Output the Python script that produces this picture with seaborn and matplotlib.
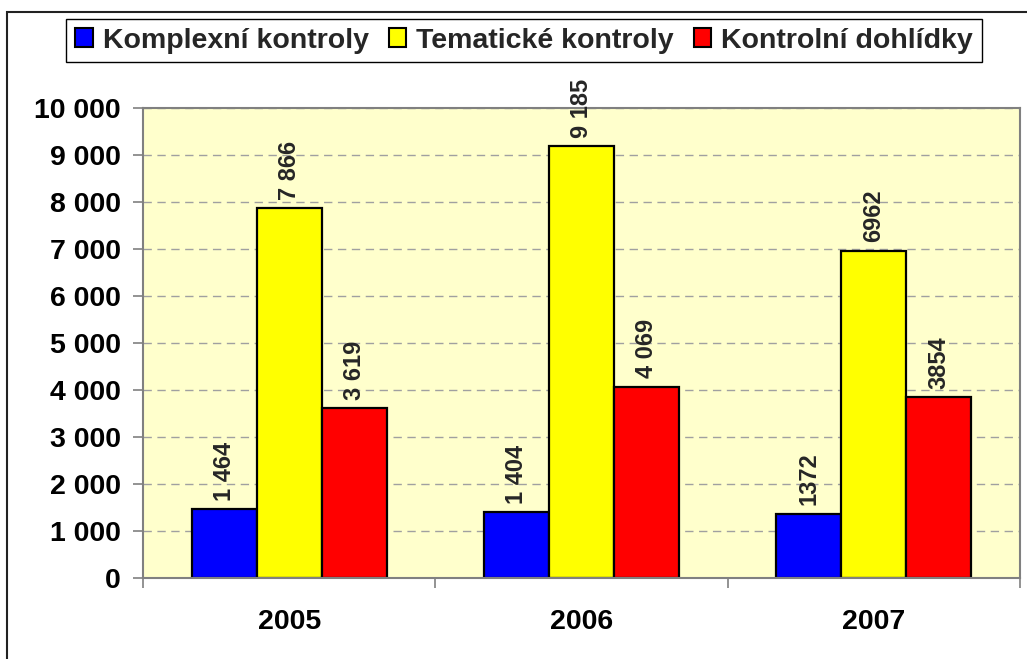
import matplotlib
matplotlib.use("Agg")
import matplotlib.pyplot as plt
import seaborn as sns
import pandas as pd
from matplotlib.patches import Rectangle
from matplotlib.ticker import FuncFormatter, FixedLocator

years = ["2005", "2006", "2007"]
series = ["Komplexní kontroly", "Tematické kontroly", "Kontrolní dohlídky"]
komplexni = [1464, 1404, 1372]
tematicke = [7866, 9185, 6962]
dohlidky = [3619, 4069, 3854]
value_labels = [["1 464", "1 404", "1372"],
                 ["7 866", "9 185", "6962"],
                 ["3 619", "4 069", "3854"]]
colors = ["#0000FF", "#FFFF00", "#FF0000"]

rows = []
for s, vals in zip(series, [komplexni, tematicke, dohlidky]):
    for y, v in zip(years, vals):
        rows.append({"Rok": y, "Typ": s, "Počet": v})
df = pd.DataFrame(rows)

sns.set_theme(style="white")
plt.rcParams["font.family"] = ["Liberation Sans", "DejaVu Sans"]
plt.rcParams["font.weight"] = "bold"

fig = plt.figure(figsize=(10.27, 6.59), dpi=100)
ax = fig.add_axes([143/1027, 1-578/659, (1020-143)/1027, (578-108)/659])
ax.set_facecolor("#FFFFCC")

sns.barplot(data=df, x="Rok", y="Počet", hue="Typ", order=years, hue_order=series,
            palette=colors, width=0.667, edgecolor="black", linewidth=1.6,
            saturation=1, ax=ax, legend=True, gap=0)

ax.set_ylim(0, 10000)
ax.set_xlim(-0.5, 2.5)
ax.set_yticks(range(0, 10001, 1000))
ax.yaxis.set_major_formatter(FuncFormatter(lambda v, p: f"{int(v):,}".replace(",", " ")))
ax.set_xlabel("")
ax.set_ylabel("")

ax.grid(axis="y", color="#A0A0A0", linestyle=(0, (6, 4)), linewidth=1.0)
ax.set_axisbelow(True)
for sp in ax.spines.values():
    sp.set_visible(True)
    sp.set_color("#808080")
    sp.set_linewidth(1.5)

ax.tick_params(axis="y", which="major", length=7, width=1.2, color="#808080",
               direction="out", pad=9, labelsize=20.5, left=True)
ax.tick_params(axis="x", which="major", length=0, pad=22, labelsize=20.5)
ax.xaxis.set_minor_locator(FixedLocator([-0.5, 0.5, 1.5, 2.5]))
ax.tick_params(axis="x", which="minor", length=7, width=1.2, color="#808080",
               direction="out", bottom=True)
for t in ax.get_xticklabels() + ax.get_yticklabels():
    t.set_fontweight("bold")
    t.set_color("black")

for i, cont in enumerate(ax.containers):
    ax.bar_label(cont, labels=value_labels[i], rotation=90, padding=6,
                 fontsize=17, fontweight="bold", clip_on=False)

leg = ax.get_legend()
handles = leg.legend_handles
leg.remove()
fig.legend(handles, series, loc="center", bbox_to_anchor=(524/1027, 1-40.5/659),
           ncol=3, frameon=True, fancybox=False, edgecolor="black", framealpha=1,
           prop={"size": 20.5, "weight": "bold"}, handlelength=0.62, handleheight=0.62,
           handletextpad=0.35, columnspacing=0.7, borderpad=0.3, borderaxespad=0)
fl = fig.legends[0]
fl.get_frame().set_linewidth(1.0)
for h in fl.legend_handles:
    h.set_edgecolor("black")
    h.set_linewidth(1.5)

top = 1 - 11.5/659
fig.patches.append(Rectangle((7/1027, -0.1), 1.2, top + 0.1,
                             transform=fig.transFigure, fill=False,
                             edgecolor="#222222", linewidth=1.5, zorder=-1))

fig.savefig("out.png", dpi=100)
